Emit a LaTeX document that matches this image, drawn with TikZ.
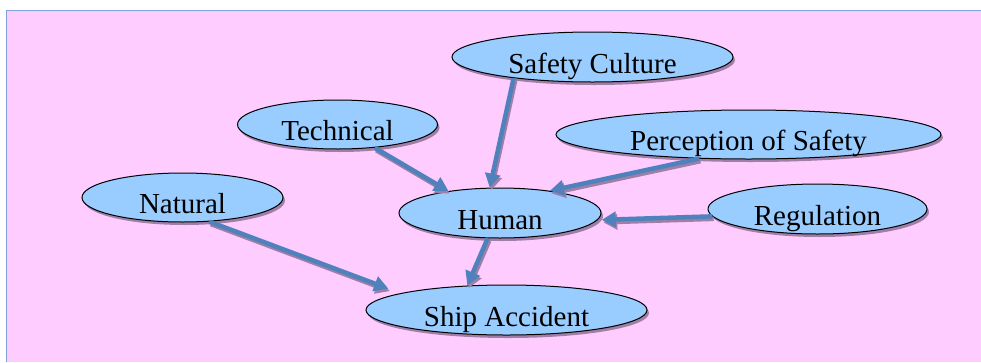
\documentclass[tikz,border=0pt]{standalone}
\usepackage{fontspec}
\setmainfont{Liberation Serif}
\usetikzlibrary{positioning,shapes.geometric,shadows,arrows.meta}
\definecolor{pinkbg}{HTML}{FFCCFF}
\definecolor{blobfill}{HTML}{99CCFF}
\definecolor{linkblue}{HTML}{4F81BD}
\definecolor{shadepurple}{HTML}{A07FA6}
\definecolor{frameblue}{HTML}{7FA3DC}
\tikzset{blob/.style={ellipse,draw=black,line width=1pt,fill=blobfill,inner sep=0pt,
    text height=32pt,text depth=0pt,font=\fontsize{29pt}{32pt}\selectfont,
    drop shadow={shadow xshift=2pt,shadow yshift=-3pt,fill=shadepurple,opacity=1}}}
\tikzset{link/.style={line width=4.5pt,draw=linkblue,-{Triangle[length=14pt,width=15pt]}}}
\tikzset{linkshade/.style={line width=4.5pt,draw=shadepurple,-{Triangle[length=14pt,width=15pt]},
    transform canvas={shift={(1.5pt,-2.5pt)}}}}

\begin{document}
\begin{tikzpicture}[x=1pt,y=-1pt]
  \useasboundingbox (0,0) rectangle (981,362);
  \fill[pinkbg] (6,10) rectangle (981,362);
  \draw[frameblue,line width=1pt] (6,362) -- (6,10) -- (981,10);
  % factors
  \node[blob,minimum width=281pt,minimum height=50pt] (sc) at (592.5,57) {Safety Culture};
  \node[blob,minimum width=200pt,minimum height=49pt] (tech) at (337.5,124.5) {Technical};
  \node[blob,minimum width=385pt,minimum height=49pt] (per) at (748.5,134.5) {Perception of Safety};
  \node[blob,minimum width=201pt,minimum height=49pt] (nat) at (182.5,197.5) {Natural};
  \node[blob,minimum width=202pt,minimum height=50pt] (hum) at (500,213) {Human};
  \node[blob,minimum width=219pt,minimum height=50pt] (reg) at (817.5,209) {Regulation};
  \node[blob,minimum width=281pt,minimum height=50pt] (ship) at (506.5,310) {Ship Accident};
  \coordinate (humright) at ([xshift=4pt]hum.-4);
  % arrows
  \foreach \from/\to/\gap in {sc.195/hum.112/0pt, tech.-32/hum.157/0pt, per.206/hum.24/0pt,
      reg.184/humright/0pt, hum.244/ship.148/0pt, nat.-42/ship.171/13pt}
  {
    \draw[linkshade,shorten >=\gap] (\from) -- (\to);
    \draw[link,shorten >=\gap] (\from) -- (\to);
  }
\end{tikzpicture}
\end{document}
